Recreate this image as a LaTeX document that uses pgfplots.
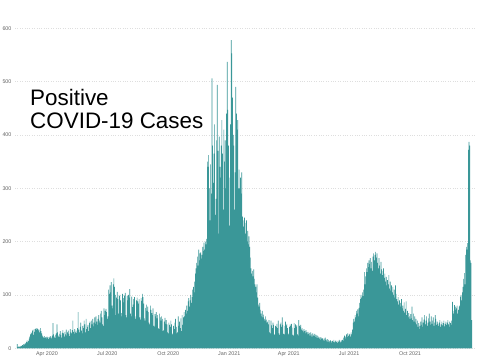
\documentclass[border=0pt]{standalone}
\usepackage{fontspec}
\setmainfont{Liberation Sans}
\usepackage{pgfplots}
\usepackage{pgfplotstable}
\pgfplotsset{compat=1.18}
\definecolor{barc}{RGB}{58,151,152}
\definecolor{gridc}{RGB}{222,222,222}
\definecolor{tickc}{RGB}{100,100,100}

\pgfplotstableread[row sep=\\]{
v\\
8\\2\\3\\2\\4\\3\\5\\
4\\6\\5\\8\\7\\10\\9\\
12\\15\\11\\14\\18\\22\\26\\
30\\28\\33\\35\\25\\31\\36\\
37\\34\\38\\36\\33\\35\\30\\
38\\32\\28\\24\\22\\20\\23\\
19\\21\\18\\22\\20\\17\\21\\
19\\23\\20\\18\\24\\47\\26\\
22\\19\\25\\28\\45\\30\\24\\
21\\27\\32\\25\\20\\29\\34\\
28\\22\\31\\26\\35\\24\\30\\
33\\27\\23\\36\\30\\28\\34\\
52\\31\\27\\36\\30\\33\\29\\
38\\68\\35\\30\\40\\48\\33\\
28\\42\\38\\52\\45\\30\\55\\
36\\40\\44\\32\\47\\50\\38\\
52\\45\\55\\41\\48\\58\\46\\
60\\50\\44\\55\\62\\52\\48\\
65\\70\\58\\45\\42\\75\\62\\
70\\74\\68\\55\\60\\110\\102\\
118\\105\\124\\80\\75\\120\\131\\
115\\100\\62\\95\\106\\92\\65\\
98\\100\\90\\66\\60\\102\\94\\
86\\99\\104\\62\\58\\98\\90\\
100\\95\\111\\65\\60\\97\\77\\
82\\92\\96\\60\\55\\90\\95\\
88\\84\\92\\58\\54\\94\\89\\
102\\96\\84\\56\\52\\76\\82\\
70\\78\\68\\48\\45\\80\\72\\
66\\62\\75\\42\\40\\64\\60\\
68\\56\\62\\38\\36\\65\\58\\
52\\60\\55\\32\\34\\50\\57\\
46\\53\\45\\30\\28\\48\\44\\
40\\52\\45\\26\\28\\42\\36\\
48\\55\\40\\28\\30\\60\\42\\
50\\38\\56\\32\\62\\44\\58\\
68\\60\\72\\65\\80\\70\\88\\
94\\78\\90\\100\\85\\96\\110\\
115\\105\\125\\140\\150\\160\\172\\
155\\185\\165\\178\\180\\168\\175\\
190\\182\\198\\185\\200\\195\\205\\
350\\340\\362\\300\\240\\345\\290\\
506\\380\\310\\365\\420\\250\\280\\
390\\494\\370\\215\\397\\340\\320\\
380\\428\\365\\260\\410\\350\\390\\
300\\440\\537\\447\\380\\230\\320\\
420\\578\\553\\470\\400\\380\\260\\
330\\490\\440\\410\\428\\300\\335\\
300\\320\\290\\330\\247\\240\\228\\
245\\235\\215\\240\\200\\220\\195\\
210\\190\\170\\150\\140\\145\\135\\
148\\130\\120\\115\\105\\120\\95\\
82\\78\\85\\72\\65\\60\\70\\
58\\63\\55\\52\\60\\54\\48\\
50\\45\\53\\30\\28\\52\\43\\
38\\48\\44\\26\\25\\42\\40\\
46\\38\\52\\28\\25\\45\\48\\
40\\58\\44\\27\\26\\42\\50\\
43\\46\\38\\28\\26\\40\\45\\
42\\46\\39\\25\\24\\47\\38\\
45\\40\\43\\26\\24\\53\\42\\
40\\44\\35\\38\\33\\30\\36\\
32\\28\\34\\30\\26\\31\\27\\
29\\24\\30\\26\\22\\28\\25\\
23\\27\\21\\25\\20\\24\\19\\
22\\18\\21\\16\\20\\17\\19\\
15\\18\\14\\20\\16\\13\\17\\
12\\16\\14\\11\\15\\13\\10\\
14\\12\\16\\11\\13\\15\\12\\
10\\14\\12\\16\\13\\11\\15\\
12\\16\\14\\20\\24\\18\\22\\
26\\21\\28\\23\\25\\27\\22\\
30\\26\\35\\48\\55\\50\\62\\
58\\70\\65\\73\\60\\76\\85\\
92\\100\\95\\105\\98\\110\\143\\
120\\135\\150\\143\\160\\152\\165\\
158\\169\\150\\162\\145\\172\\178\\
165\\175\\181\\170\\178\\160\\150\\
169\\155\\140\\162\\148\\137\\145\\
150\\132\\140\\125\\134\\118\\128\\
120\\137\\112\\125\\108\\118\\105\\
115\\100\\110\\95\\118\\102\\92\\
88\\96\\82\\90\\78\\85\\92\\
75\\80\\70\\86\\67\\74\\88\\
62\\70\\58\\66\\60\\55\\64\\
56\\78\\53\\65\\50\\60\\48\\
55\\45\\52\\40\\47\\36\\42\\
50\\44\\58\\40\\48\\54\\62\\
45\\52\\60\\42\\48\\56\\65\\
50\\44\\60\\46\\52\\58\\42\\
48\\62\\55\\44\\50\\46\\42\\
48\\53\\40\\45\\50\\43\\47\\
52\\41\\46\\50\\44\\48\\53\\
45\\40\\50\\47\\44\\52\\87\\
70\\65\\81\\72\\78\\75\\80\\
65\\72\\78\\80\\97\\100\\90\\
105\\115\\130\\141\\120\\175\\190\\
185\\197\\372\\387\\380\\165\\160\\
53\\
}\cases

\begin{document}
\begin{tikzpicture}
\useasboundingbox (-15bp,-11.7bp) rectangle (465bp,348.3bp);
\begin{axis}[
  scale only axis, width=461bp, height=346.67bp,
  xmin=-48.3, xmax=647.5, ymin=0, ymax=650,
  axis line style={draw=none},
  major tick length=0pt,
  ytick={0,100,...,600},
  xtick={0,91,183,275,365,456,548},
  xticklabels={Apr 2020,Jul 2020,Oct 2020,Jan 2021,Apr 2021,Jul 2021,Oct 2021},
  ymajorgrids,
  grid style={gridc, dotted, line width=0.8pt},
  tick label style={font=\fontsize{5.4}{6}\selectfont, text=tickc},
  /pgf/number format/assume math mode=true,
]
\addplot[ybar, bar width=1, fill=barc, draw=none] table[x expr=\coordindex-45, y=v] {\cases};
\end{axis}
\node[anchor=base west, inner sep=0pt, font=\fontsize{22.5}{27}\selectfont] at (15bp,242.9bp) {Positive};
\node[anchor=base west, inner sep=0pt, font=\fontsize{22.5}{27}\selectfont] at (15bp,219.5bp) {COVID-19 Cases};
\end{tikzpicture}
\end{document}
